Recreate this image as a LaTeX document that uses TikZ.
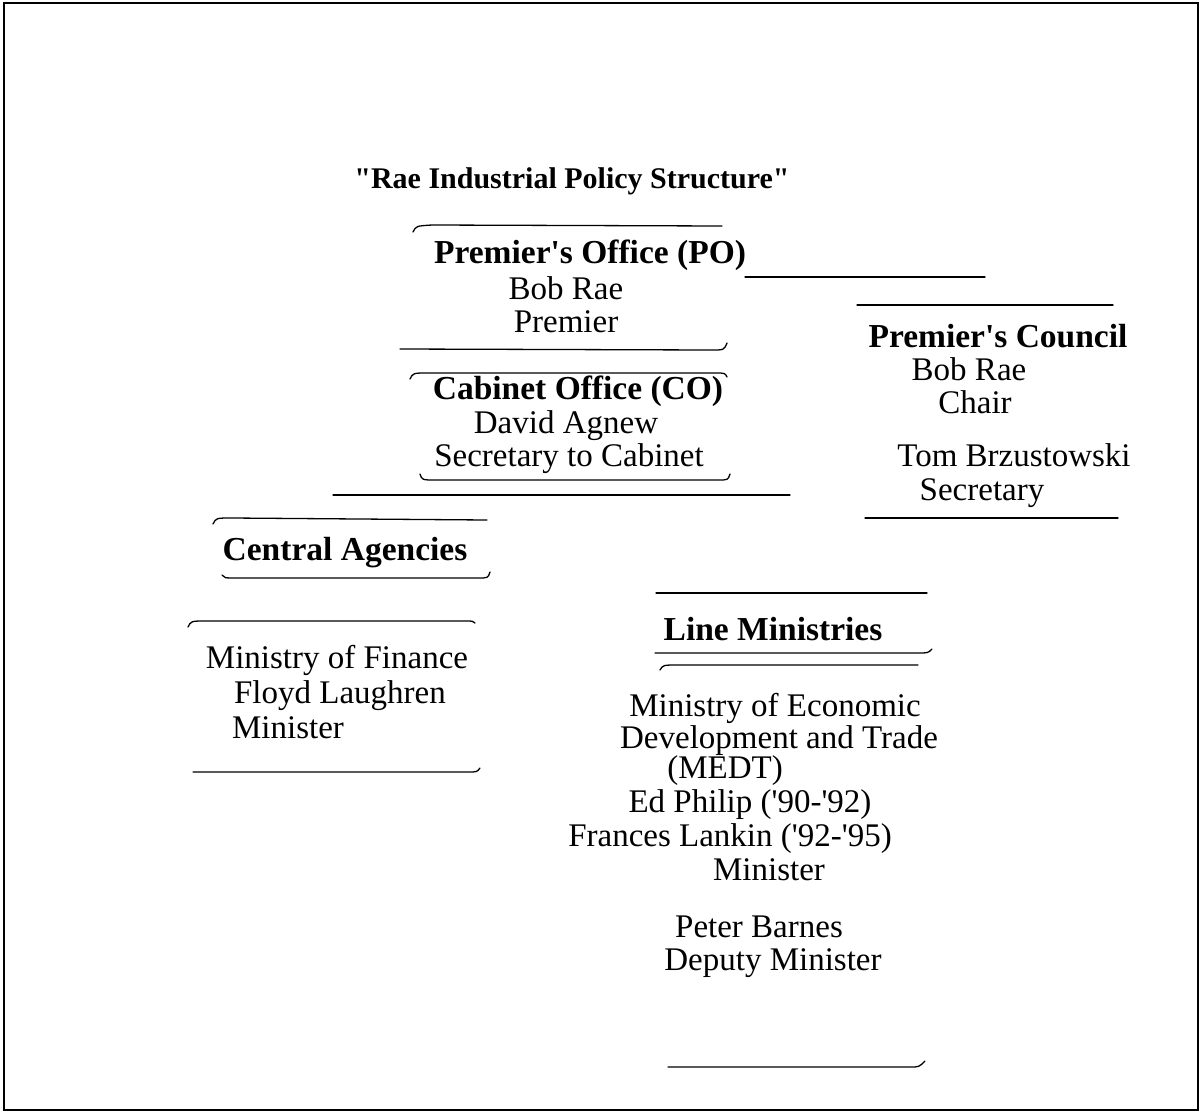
\documentclass[tikz,border=0pt]{standalone}
\usepackage{fontspec}
\setmainfont{Liberation Serif}
\newcommand{\q}{\textquotesingle}
\newcommand{\dq}{\textquotedbl}
\begin{document}
\begin{tikzpicture}[x=1pt,y=-1pt,
  txt/.style={anchor=base,inner sep=0pt,font=\fontsize{33}{35}\selectfont},
  head/.style={txt,font=\fontsize{33.5}{35}\selectfont\bfseries},
  rule/.style={line width=1.3pt,line cap=round}]
\useasboundingbox (0,0) rectangle (1202,1114);
% outer frame
\draw[line width=2.2pt] (4,3) rectangle (1198,1110);

% title
\node[head,font=\fontsize{30}{35}\selectfont\bfseries] (title) at (572,188) {\dq Rae Industrial Policy Structure\dq};

% Premier's Office
\node[head] (po) at (590,263) {Premier\q s Office (PO)};
\node[txt] (po1) at (566,299) {Bob Rae};
\node[txt] (po2) at (566,332) {Premier};
\coordinate (poTL) at (413,232); \coordinate (poTR) at (722,226);
\coordinate (poBL) at (400,349); \coordinate (poBR) at (727,343);
\draw[rule] (poTL) .. controls (416,226) .. (432,225) -- (poTR);
\draw[rule] (poBL) -- (712,350) .. controls (724,350) .. (poBR);

% link to the council
\coordinate (lnA) at (745,277); \coordinate (lnB) at (985,277);
\draw[rule] (lnA) -- (lnB);

% Premier's Council
\node[head] (pc) at (998,347) {Premier\q s Council};
\node[txt] (pc1) at (969,380) {Bob Rae};
\node[txt] (pc2) at (975,413) {Chair};
\node[txt] (pc3) at (1014,466) {Tom Brzustowski};
\node[txt] (pc4) at (982,500) {Secretary};
\coordinate (pcTL) at (857,305); \coordinate (pcTR) at (1113,305);
\coordinate (pcBL) at (865,518); \coordinate (pcBR) at (1118,518);
\draw[rule] (pcTL) -- (pcTR);
\draw[rule] (pcBL) -- (pcBR);

% Cabinet Office
\node[head] (co) at (578,399) {Cabinet Office (CO)};
\node[txt] (co1) at (566,433) {David Agnew};
\node[txt] (co2) at (569,466) {Secretary to Cabinet};
\coordinate (coTL) at (410,379); \coordinate (coTR) at (727,377);
\coordinate (coBL) at (420,474); \coordinate (coBR) at (730,474);
\draw[rule] (coTL) .. controls (413,373) .. (428,373) -- (715,373) .. controls (725,373) .. (coTR);
\draw[rule] (coBL) .. controls (422,480) .. (436,480) -- (718,480) .. controls (728,480) .. (coBR);
\coordinate (longL) at (333,495); \coordinate (longR) at (790,495);
\draw[rule] (longL) -- (longR);

% Central Agencies
\node[head] (ca) at (345,560) {Central Agencies};
\coordinate (caTL) at (213,524); \coordinate (caTR) at (487,520);
\coordinate (caBL) at (222,575); \coordinate (caBR) at (490,572);
\draw[rule] (caTL) .. controls (216,518) .. (232,518) -- (caTR);
\draw[rule] (caBL) .. controls (224,578) .. (238,578) -- (478,578) .. controls (488,578) .. (caBR);

% Ministry of Finance
\node[txt] (mf1) at (337,668) {Ministry of Finance};
\node[txt] (mf2) at (340,703) {Floyd Laughren};
\node[txt] (mf3) at (288,738) {Minister};
\coordinate (mfTL) at (188,627); \coordinate (mfTR) at (475,623);
\coordinate (mfBL) at (193,772); \coordinate (mfBR) at (480,768);
\draw[rule] (mfTL) .. controls (191,621) .. (206,621) -- (465,621) .. controls (473,621) .. (mfTR);
\draw[rule] (mfBL) -- (468,772) .. controls (477,772) .. (mfBR);

% Line Ministries
\node[head] (lm) at (773,640) {Line Ministries};
\coordinate (lmTL) at (656,593); \coordinate (lmTR) at (927,593);
\coordinate (lmBL) at (655,653); \coordinate (lmBR) at (932,649);
\draw[rule] (lmTL) -- (lmTR);
\draw[rule] (lmBL) -- (918,653) .. controls (928,653) .. (lmBR);

% MEDT
\node[txt] (md1) at (775,716) {Ministry of Economic};
\node[txt] (md2) at (779,748) {Development and Trade};
\node[txt] (md3) at (725,778) {(MEDT)};
\node[txt] (md4) at (750,812) {Ed Philip (\q 90-\q 92)};
\node[txt] (md5) at (730,846) {Frances Lankin (\q 92-\q 95)};
\node[txt] (md6) at (769,880) {Minister};
\node[txt] (md7) at (759,937) {Peter Barnes};
\node[txt] (md8) at (773,970) {Deputy Minister};
\coordinate (mdTL) at (660,670); \coordinate (mdTR) at (918,665);
\coordinate (mdBL) at (668,1067); \coordinate (mdBR) at (925,1061);
\draw[rule] (mdTL) .. controls (663,665) .. (678,665) -- (mdTR);
\draw[rule] (mdBL) -- (910,1067) .. controls (919,1067) .. (mdBR);
\end{tikzpicture}
\end{document}
